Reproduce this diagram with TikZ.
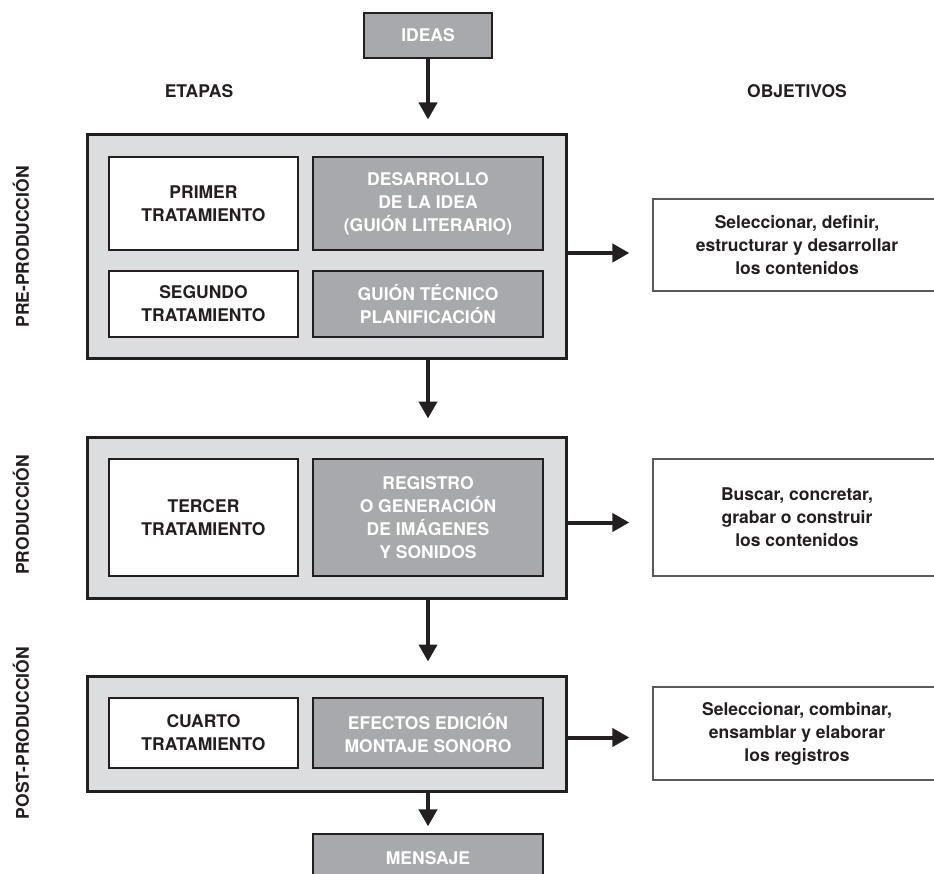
\documentclass[tikz,border=0pt]{standalone}
\usepackage{fontspec}
\setmainfont{TeX Gyre Heros}
\usetikzlibrary{arrows.meta, positioning}
\definecolor{ink}{HTML}{231F20}
\definecolor{panel}{HTML}{DCDDDF}
\definecolor{shade}{HTML}{A7A9AC}
\definecolor{rim}{HTML}{58595B}

\begin{document}
\begin{tikzpicture}[x=1pt, y=-1pt,
                txt/.style={font=\fontsize{17.5}{23}\selectfont\bfseries, align=center, inner sep=0pt},
                stage/.style={draw=ink, line width=3pt, fill=panel, minimum width=479pt},
                light/.style={txt, draw=ink, line width=1.3pt, fill=white, text=ink, minimum width=189pt},
                dark/.style={txt, draw=ink, line width=1.3pt, fill=shade, text=white, minimum width=230pt},
                goal/.style={txt, draw=rim, line width=1.3pt, fill=white, text=ink, minimum width=288pt},
                phase/.style={txt, text=ink, rotate=90},
                arrow/.style={-{Triangle[length=17pt, width=18pt]}, line width=4pt, draw=ink}
            ]
\useasboundingbox (0,0) rectangle (934,874);

\node[dark, minimum width=128pt, minimum height=45pt] (ideas) at (428,35.5) {IDEAS};
            \node[txt, text=ink] (etapas) at (199,91) {ETAPAS};
            \node[txt, text=ink] (objetivos) at (797,91) {OBJETIVOS};

% pre-produccion
\node[stage, minimum height=224pt] (pre) at (326.5,247) {};
            \node[light, minimum height=93pt] (t1) at (203.5,203.5) {PRIMER\\TRATAMIENTO};
            \node[dark, minimum height=93pt] (d1) at (428,203.5) {DESARROLLO\\DE LA IDEA\\(GUIÓN LITERARIO)};
            \node[light, minimum height=66pt] (t2) at (203.5,304) {SEGUNDO\\TRATAMIENTO};
            \node[dark, minimum height=66pt] (d2) at (428,304) {GUIÓN TÉCNICO\\PLANIFICACIÓN};
            \node[goal, minimum height=92pt] (o1) at (797,245) {Seleccionar, definir,\\estructurar y desarrollar\\los contenidos};
            \node[phase] (l1) at (21,247) {PRE-PRODUCCIÓN};

% produccion
\node[stage, minimum height=161pt] (prod) at (326.5,517.5) {};
            \node[light, minimum height=117pt] (t3) at (203.5,517.5) {TERCER\\TRATAMIENTO};
            \node[dark, minimum height=117pt] (d3) at (428,517.5) {REGISTRO\\O GENERACIÓN\\DE IMÁGENES\\Y SONIDOS};
            \node[goal, minimum height=117pt] (o2) at (797,517.5) {Buscar, concretar,\\grabar o construir\\los contenidos};
            \node[phase] (l2) at (21,515) {PRODUCCIÓN};

% post-produccion
\node[stage, minimum height=115pt] (post) at (326.5,733.5) {};
            \node[light, minimum height=70pt] (t4) at (203.5,733) {CUARTO\\TRATAMIENTO};
            \node[dark, minimum height=70pt] (d4) at (428,733) {EFECTOS EDICIÓN\\MONTAJE SONORO};
            \node[goal, minimum height=93pt] (o3) at (797,733.5) {Seleccionar, combinar,\\ensamblar y elaborar\\los registros};
            \node[phase] (l3) at (21,733) {POST-PRODUCCIÓN};

\node[dark, minimum height=48pt] (mensaje) at (428,858) {MENSAJE};

\draw[arrow, shorten >=14pt] (ideas) -- (ideas |- pre.north);
            \draw[arrow, shorten >=17pt] (d1 |- pre.south) -- (d1 |- prod.north);
            \draw[arrow, shorten >=13pt] (d3 |- prod.south) -- (d3 |- post.north);
            \draw[arrow, shorten >=7pt] (d4 |- post.south) -- (mensaje);

\draw[arrow, shorten >=23pt] ([yshift=-6pt]pre.east) -- ([yshift=-6pt]pre.east -| o1.west);
            \draw[arrow, shorten >=23pt] ([yshift=-5pt]prod.east) -- ([yshift=-5pt]prod.east -| o2.west);
            \draw[arrow, shorten >=23pt] ([yshift=-4pt]post.east) -- ([yshift=-4pt]post.east -| o3.west);

            \end{tikzpicture}
\end{document}
